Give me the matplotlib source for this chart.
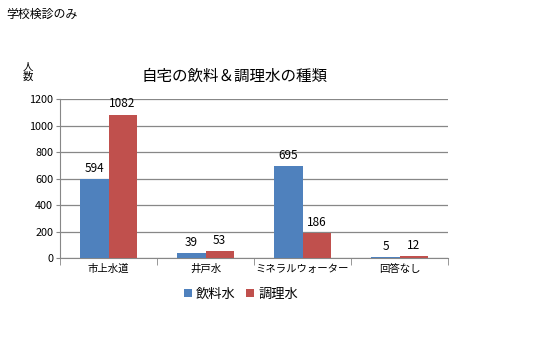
import numpy as np
import matplotlib
matplotlib.use("Agg")
from matplotlib import pyplot as plt

plt.rcParams['font.family'] = ['Noto Sans CJK JP', 'DejaVu Sans']

categories = ["市上水道", "井戸水", "ミネラルウォーター", "回答なし"]
drinking = [594, 39, 695, 5]
cooking = [1082, 53, 186, 12]
series_names = ["飲料水", "調理水"]
y_ticks = [0, 200, 400, 600, 800, 1000, 1200]

BLUE = "#4F81BD"
RED = "#C0504D"
GRID = "#878787"

fig = plt.figure(figsize=(5.33, 3.6), dpi=100)
ax = fig.add_axes([0.1126, 0.2833, 0.728, 0.4417])

x = np.arange(len(categories))
w = 0.29
b1 = ax.bar(x - w / 2, drinking, w, color=BLUE, label=series_names[0], zorder=3)
b2 = ax.bar(x + w / 2, cooking, w, color=RED, label=series_names[1], zorder=3)

for bars in (b1, b2):
    for rect in bars:
        h = rect.get_height()
        ax.annotate(f"{int(h)}", (rect.get_x() + rect.get_width() / 2, h),
                    xytext=(0, 3), textcoords="offset points",
                    ha="center", va="bottom", fontsize=8.5)

ax.set_xlim(-0.5, len(categories) - 0.5)
ax.set_ylim(0, 1200)
ax.set_yticks(y_ticks)
ax.tick_params(axis="y", labelsize=7.8, length=3, color=GRID, pad=2)
ax.set_xticks(x)
ax.set_xticklabels(categories, fontsize=7.5)
ax.tick_params(axis="x", length=0, pad=4)
ax.set_xticks(np.arange(len(categories) + 1) - 0.5, minor=True)
ax.tick_params(axis="x", which="minor", length=5, color=GRID)

ax.grid(axis="y", color=GRID, linewidth=0.9, zorder=0)
for side in ("top", "right"):
    ax.spines[side].set_visible(False)
ax.spines["left"].set_color(GRID)
ax.spines["bottom"].set_color(GRID)

fig.text(6 / 533, 1 - 14 / 360, "学校検診のみ", fontsize=8.6, ha="left", va="center")
fig.text(28 / 533, 1 - 72 / 360, "人\n数", fontsize=7.5, ha="center", va="center",
         linespacing=1.0)
fig.text(234 / 533, 1 - 76 / 360, "自宅の飲料＆調理水の種類", fontsize=11.2,
         ha="center", va="center")

ax.legend(loc="center", bbox_to_anchor=(241 / 533, 1 - 294 / 360),
          bbox_transform=fig.transFigure, ncol=2, frameon=False,
          fontsize=9.5, handlelength=0.6, handleheight=0.6, handletextpad=0.3,
          columnspacing=0.8)

fig.savefig("out.png", dpi=100)
